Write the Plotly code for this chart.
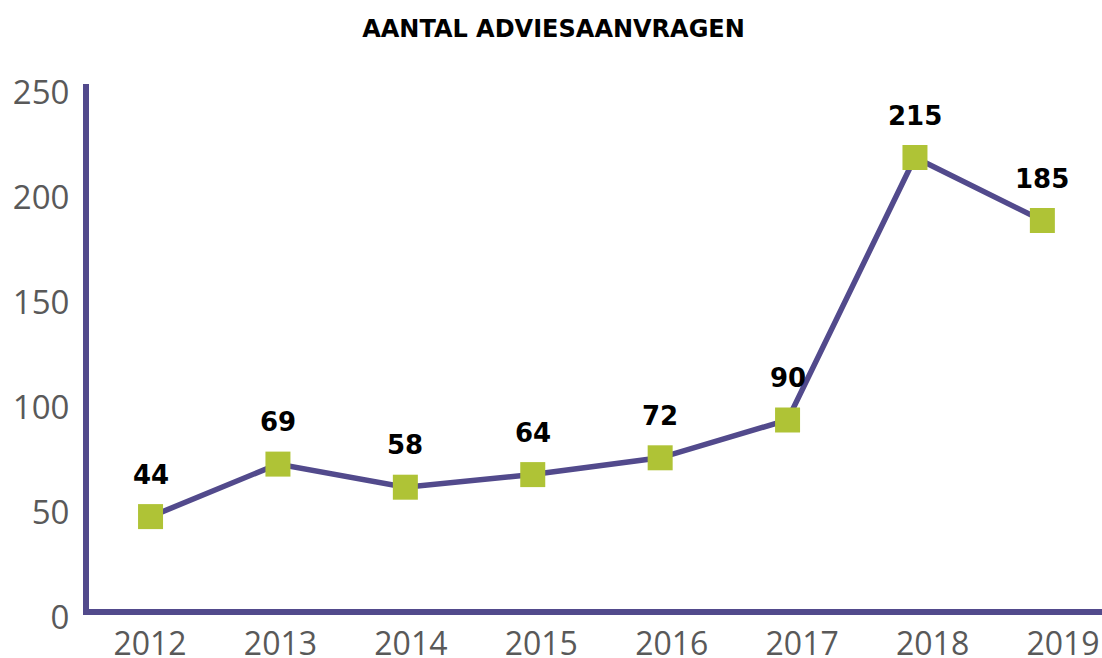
import plotly.graph_objects as go

years = ["2012", "2013", "2014", "2015", "2016", "2017", "2018", "2019"]
values = [44, 69, 58, 64, 72, 90, 215, 185]
y_ticks = [0, 50, 100, 150, 200, 250]
title_text = "AANTAL ADVIESAANVRAGEN"

PURPLE = "#524a8c"
GREEN = "#afc336"
GRAY = "#595959"

fig = go.Figure()

# invisible helper trace for the tick-label axis
fig.add_trace(go.Scatter(x=years, y=values, xaxis="x2", yaxis="y", mode="none",
                         hoverinfo="skip", showlegend=False))

fig.add_trace(go.Scatter(
    x=years, y=values, mode="lines+markers",
    line=dict(color=PURPLE, width=5.5),
    marker=dict(symbol="square", size=25, color=GREEN, line=dict(width=0)),
    showlegend=False, cliponaxis=False,
))

for i, v in enumerate(values):
    fig.add_annotation(x=i, y=v, xref="x", yref="y", text=f"<b>{v}</b>", showarrow=False,
                       yshift=42, yanchor="middle", xanchor="center",
                       font=dict(family="DejaVu Sans", size=26, color="#000000"))

fig.update_layout(
    width=1102, height=658,
    margin=dict(l=89, r=0, t=84, b=49),
    paper_bgcolor="white", plot_bgcolor="white",
    title=dict(text=f"<b>{title_text}</b>", x=553.5 / 1102, xref="container", xanchor="center",
               y=1 - 29 / 658, yref="container", yanchor="middle",
               font=dict(family="DejaVu Sans", size=24, color="#000000")),
    xaxis=dict(type="category", range=[-0.483, 7.468], showline=True, linecolor=PURPLE,
               linewidth=6, showgrid=False, zeroline=False, ticks="", showticklabels=False,
               automargin=False),
    xaxis2=dict(type="category", overlaying="x", anchor="y", side="bottom",
                range=[-0.468, 7.299], showline=False, showgrid=False, zeroline=False,
                ticks="", ticklabelstandoff=13, automargin=False,
                tickfont=dict(family="Open Sans", size=32, color=GRAY)),
    yaxis=dict(range=[0, 250], tickvals=y_ticks, showline=True, linecolor=PURPLE,
               linewidth=6, showgrid=False, zeroline=False, ticks="",
               ticklabelshift=8, ticklabelstandoff=7, automargin=False,
               tickfont=dict(family="Open Sans", size=33, color=GRAY)),
)

fig.write_html("out.html", config={"displayModeBar": False},
               post_script="document.body.style.margin='0';document.body.style.padding='0';")
